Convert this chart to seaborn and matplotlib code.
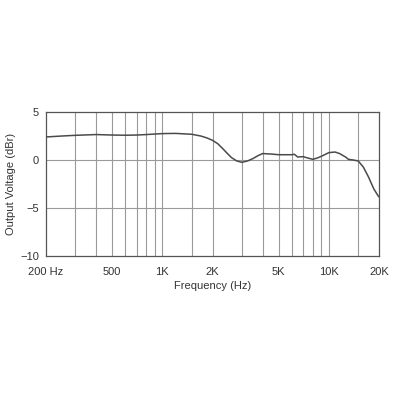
import matplotlib
matplotlib.use("Agg")
import matplotlib.pyplot as plt
import seaborn as sns
import pandas as pd
from matplotlib.ticker import FixedLocator, NullLocator

freq_hz = [200, 250, 300, 400, 500, 600, 700, 800, 1000, 1200, 1500, 1700, 1850, 2000,
           2150, 2300, 2450, 2600, 2800, 3000, 3250, 3500, 3750, 4000, 4500, 5000,
           5500, 6000, 6200, 6500, 7000, 7500, 8000, 8500, 9000, 10000, 10900, 11600,
           12600, 13100, 14000, 15000, 16100, 17300, 18600, 19700, 20000]
output_dbr = [2.4, 2.5, 2.57, 2.65, 2.6, 2.58, 2.6, 2.65, 2.75, 2.77, 2.68, 2.5, 2.3, 2.05,
              1.7, 1.2, 0.7, 0.25, -0.1, -0.24, -0.1, 0.15, 0.45, 0.67, 0.62, 0.55,
              0.55, 0.55, 0.6, 0.31, 0.35, 0.2, 0.07, 0.2, 0.38, 0.77, 0.83, 0.67,
              0.31, 0.07, 0.0, -0.1, -0.73, -1.77, -3.0, -3.7, -3.85]

x_ticks = [200, 500, 1000, 2000, 5000, 10000, 20000]
x_tick_labels = ["200 Hz", "500", "1K", "2K", "5K", "10K", "20K"]
x_grid = [300, 400, 500, 600, 700, 800, 900, 1000, 1500, 2000, 3000, 4000, 5000,
          6000, 7000, 8000, 9000, 10000, 15000]
y_ticks = [5, 0, -5, -10]

df = pd.DataFrame({"freq": freq_hz, "db": output_dbr})

sns.set_style("white")
plt.rcParams["font.family"] = ["Liberation Sans", "DejaVu Sans"]

fig = plt.figure(figsize=(4, 4), dpi=100)
ax = fig.add_axes([0.115, 0.36, 0.8325, 0.36])

for xv in x_grid:
    ax.axvline(xv, color="#9a9a9a", lw=0.8, zorder=1)
for yv in [0, -5]:
    ax.axhline(yv, color="#9a9a9a", lw=0.8, zorder=1)

sns.lineplot(data=df, x="freq", y="db", ax=ax, color="#4a4a4a", lw=1.1, zorder=3)

ax.set_xscale("log")
ax.set_xlim(200, 20000)
ax.set_ylim(-10, 5)
ax.xaxis.set_major_locator(FixedLocator(x_ticks))
ax.xaxis.set_minor_locator(NullLocator())
ax.set_xticklabels(x_tick_labels)
ax.set_yticks(y_ticks)
ax.tick_params(axis="x", length=0, labelsize=8, colors="#333333", pad=8)
ax.tick_params(axis="y", length=0, labelsize=8, colors="#333333", pad=5)
ax.set_xlabel("Frequency (Hz)", fontsize=8, color="#333333", labelpad=3)
ax.set_ylabel("Output Voltage (dBr)", fontsize=8, color="#333333", labelpad=3)
for s in ax.spines.values():
    s.set_color("#555555")
    s.set_linewidth(0.9)

fig.savefig("out.png", dpi=100)
